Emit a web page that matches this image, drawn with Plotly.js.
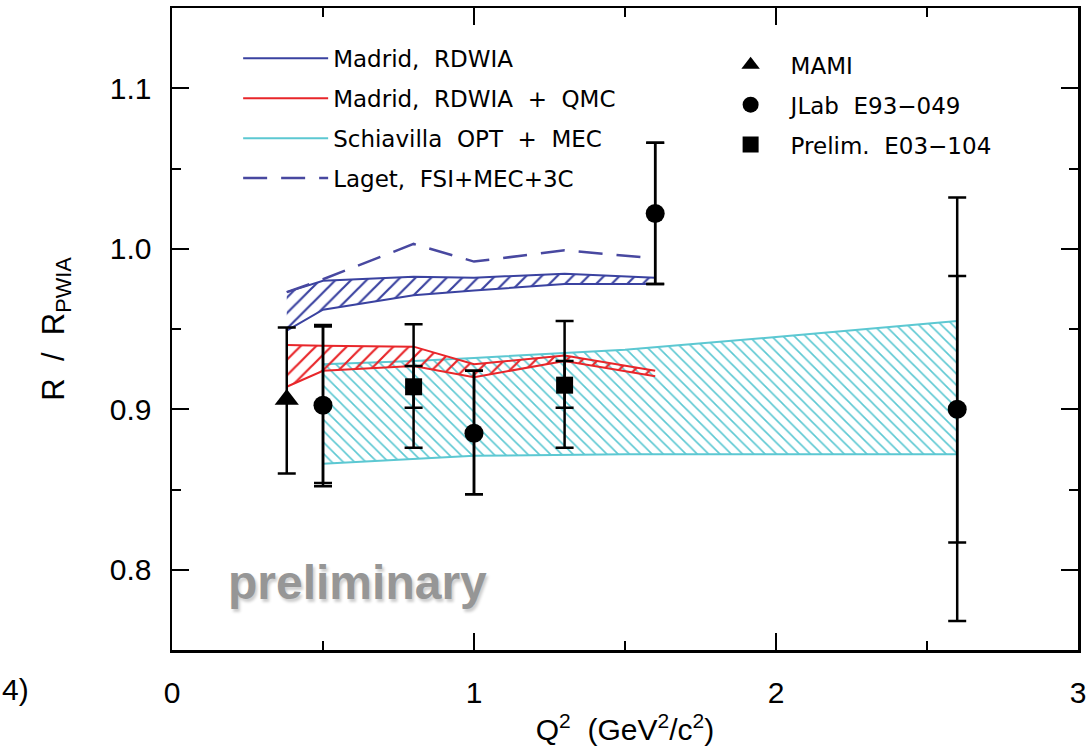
<!DOCTYPE html>
<html>
<head>
<meta charset="utf-8">
<script src="https://cdn.plot.ly/plotly-3.0.1.min.js"></script>
<style>html,body{margin:0;padding:0;background:#fff;}#chart{width:1087px;height:755px;}</style>
</head>
<body>
<div id="chart"></div>
<script>
// ---- Data ----
// Madrid RDWIA band
const madridX     = [0.38, 0.5, 0.8, 1.0, 1.3, 1.6];
const madridUpper = [0.973, 0.980, 0.9826, 0.982, 0.9845, 0.982];
const madridLower = [0.949, 0.962, 0.971, 0.974, 0.978, 0.978];
// Madrid RDWIA + QMC band
const qmcX     = [0.38, 0.5, 0.8, 1.0, 1.3, 1.6];
const qmcUpper = [0.940, 0.9395, 0.939, 0.928, 0.9335, 0.924];
const qmcLower = [0.914, 0.924, 0.927, 0.920, 0.930, 0.9205];
// Schiavilla OPT + MEC band
const schX     = [0.5, 0.8, 1.0, 1.5, 2.0, 2.6];
const schUpper = [0.928, 0.930, 0.932, 0.937, 0.945, 0.955];
const schLower = [0.866, 0.869, 0.871, 0.872, 0.872, 0.872];
// Laget FSI+MEC+3C
const lagetX = [0.38, 0.5, 0.8, 1.0, 1.3, 1.6];
const lagetY = [0.973, 0.981, 1.003, 0.992, 0.999, 0.994];
// MAMI
const mamiX = [0.38];
const mamiY = [0.906];
const mamiErrPlus  = [0.045];
const mamiErrMinus = [0.046];
// JLab E93-049
const jlabX = [0.5, 1.0, 1.6, 2.6];
const jlabY = [0.9025, 0.885, 1.022, 0.900];
const jlabTotPlus  = [0.050, 0.039, 0.044, 0.132];
const jlabTotMinus = [0.0505, 0.038, 0.044, 0.132];
const jlabStatPlus  = [0.049, 0.039, 0.044, 0.083];
const jlabStatMinus = [0.0485, 0.038, 0.044, 0.083];
// Prelim. E03-104
const e03X = [0.8, 1.3];
const e03Y = [0.914, 0.915];
const e03TotPlus  = [0.039, 0.040];
const e03TotMinus = [0.038, 0.039];
const e03StatPlus  = [0.013, 0.015];
const e03StatMinus = [0.013, 0.014];

// ---- Styles ----
const BLUE = 'rgb(58,66,160)';
const RED = 'rgb(232,38,42)';
const CYAN = 'rgb(92,200,210)';
const DASHBLUE = 'rgb(72,72,160)';
const TXT = 'DejaVu Sans, sans-serif';
const AXF = 'Liberation Sans, Arial, sans-serif';

function bandPolygon(x, up, lo) {
  return {
    x: x.concat(x.slice().reverse()),
    y: up.concat(lo.slice().reverse())
  };
}

const traces = [];
function addBand(x, up, lo, color, shape, size, name, rank) {
  const poly = bandPolygon(x, up, lo);
  traces.push({
    type: 'scatter', mode: 'lines', x: poly.x, y: poly.y,
    fill: 'toself', fillcolor: 'rgba(0,0,0,0)',
    fillpattern: {shape: shape, fgcolor: color, bgcolor: 'rgba(0,0,0,0)', size: size, solidity: 0.2},
    line: {width: 0, color: color}, showlegend: false, hoverinfo: 'skip'
  });
  traces.push({
    type: 'scatter', mode: 'lines', x: x, y: up, name: name,
    line: {color: color, width: 2}, legend: 'legend', legendrank: rank, legendgroup: name
  });
  traces.push({
    type: 'scatter', mode: 'lines', x: x, y: lo, showlegend: false,
    line: {color: color, width: 2}
  });
}

addBand(schX, schUpper, schLower, CYAN, '\\', 8, 'Schiavilla  OPT  +  MEC', 3);
addBand(qmcX, qmcUpper, qmcLower, RED, '/', 11, 'Madrid,  RDWIA  +  QMC', 2);
addBand(madridX, madridUpper, madridLower, BLUE, '/', 11, 'Madrid,  RDWIA', 1);

traces.push({
  type: 'scatter', mode: 'lines', x: lagetX, y: lagetY, name: 'Laget,  FSI+MEC+3C',
  line: {color: DASHBLUE, width: 2.5, dash: '24px,14px'}, legend: 'legend', legendrank: 4, legendgroup: 'laget'
});

const errStyle = {color: 'black', thickness: 2.5, width: 9};

// inner (statistical) error bars
traces.push({
  type: 'scatter', mode: 'markers', x: jlabX, y: jlabY, showlegend: false,
  marker: {size: 1, color: 'rgba(0,0,0,0)'},
  error_y: Object.assign({type: 'data', symmetric: false, array: jlabStatPlus, arrayminus: jlabStatMinus}, errStyle)
});
traces.push({
  type: 'scatter', mode: 'markers', x: e03X, y: e03Y, showlegend: false,
  marker: {size: 1, color: 'rgba(0,0,0,0)'},
  error_y: Object.assign({type: 'data', symmetric: false, array: e03StatPlus, arrayminus: e03StatMinus}, errStyle)
});

traces.push({
  type: 'scatter', mode: 'markers', x: mamiX, y: mamiY, name: 'MAMI',
  marker: {symbol: 'triangle-up', size: 21, color: 'black'},
  error_y: Object.assign({type: 'data', symmetric: false, array: mamiErrPlus, arrayminus: mamiErrMinus}, errStyle),
  legend: 'legend2', legendrank: 1, legendgroup: 'mami'
});
traces.push({
  type: 'scatter', mode: 'markers', x: jlabX, y: jlabY, name: 'JLab  E93\u2212049',
  marker: {symbol: 'circle', size: 19, color: 'black'},
  error_y: Object.assign({type: 'data', symmetric: false, array: jlabTotPlus, arrayminus: jlabTotMinus}, errStyle),
  legend: 'legend2', legendrank: 2, legendgroup: 'jlab'
});
traces.push({
  type: 'scatter', mode: 'markers', x: e03X, y: e03Y, name: 'Prelim.  E03\u2212104',
  marker: {symbol: 'square', size: 17, color: 'black'},
  error_y: Object.assign({type: 'data', symmetric: false, array: e03TotPlus, arrayminus: e03TotMinus}, errStyle),
  legend: 'legend2', legendrank: 3, legendgroup: 'e03'
});

const axisCommon = {
  showline: true, linecolor: 'black', linewidth: 2.5, mirror: 'allticks',
  ticks: 'inside', tickcolor: 'black', tickwidth: 2, ticklen: 17,
  showgrid: false, zeroline: false,
  tickfont: {family: AXF, size: 30, color: 'black'}
};

const layout = {
  width: 1087, height: 755,
  margin: {l: 172, r: 9, t: 8, b: 105},
  paper_bgcolor: 'white', plot_bgcolor: 'white',
  showlegend: true,
  xaxis: Object.assign({}, axisCommon, {
    range: [0, 3], dtick: 1, tick0: 0,
    ticklabelstandoff: 14,
    minor: {dtick: 0.5, ticks: 'inside', ticklen: 9, tickwidth: 2, tickcolor: 'black', showgrid: false},
    title: {text: '\u00a0\u00a0\u00a0\u00a0Q<sup>2</sup>  (GeV<sup>2</sup>/c<sup>2</sup>)', font: {family: AXF, size: 30, color: 'black'}, standoff: 12}
  }),
  yaxis: Object.assign({}, axisCommon, {
    range: [0.75, 1.15], dtick: 0.1, tick0: 0.8, tickformat: '.1f',
    ticklabelstandoff: 12,
    minor: {dtick: 0.05, ticks: 'inside', ticklen: 9, tickwidth: 2, tickcolor: 'black', showgrid: false},
    title: {text: 'R  /  R<sub>PWIA</sub>', font: {family: AXF, size: 31, color: 'black'}, standoff: 36}
  }),
  legend: {
    x: 0.073, y: 0.955, xanchor: 'left', yanchor: 'top',
    bgcolor: 'rgba(0,0,0,0)', borderwidth: 0, itemwidth: 85,
    traceorder: 'grouped', tracegroupgap: 7,
    font: {family: TXT, size: 23, color: 'black'}
  },
  legend2: {
    x: 0.5945, y: 0.945, xanchor: 'left', yanchor: 'top',
    bgcolor: 'rgba(0,0,0,0)', borderwidth: 0, itemwidth: 70,
    traceorder: 'grouped', tracegroupgap: 7,
    font: {family: TXT, size: 23, color: 'black'}
  },
  annotations: [
    {text: '<b>preliminary</b>', x: 0.613, y: 0.792, xref: 'x', yref: 'y', showarrow: false,
     font: {family: AXF, size: 48, color: 'rgb(150,150,150)', shadow: '2px 3px 3px rgb(205,205,205)'}},
    {text: '4)', x: -0.1898, y: -0.062, xref: 'paper', yref: 'paper', xanchor: 'left', yanchor: 'middle', showarrow: false,
     font: {family: AXF, size: 30, color: 'black'}}
  ]
};

Plotly.newPlot('chart', traces, layout, {displayModeBar: false, staticPlot: true});
</script>
</body>
</html>
